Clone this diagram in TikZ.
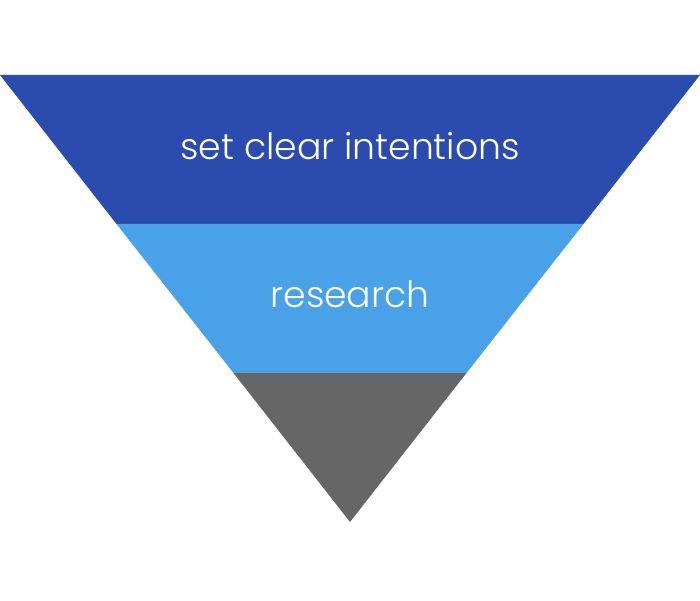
\documentclass[tikz,border=0pt]{standalone}
\usepackage{fontspec}
\setmainfont{Poppins Light}
\definecolor{topblue}{HTML}{2B4BAF}
\definecolor{midblue}{HTML}{49A2E7}
\definecolor{tipgray}{HTML}{666666}
\begin{document}
\begin{tikzpicture}[
    band/.style={draw=none},
    bandlabel/.style={text=white, font=\fontsize{20.6}{24}\selectfont, anchor=base}
]
\useasboundingbox (0,0) rectangle (14,12);

%--------
% FUNNEL: three bands of one inverted triangle
%--------
\fill[band, topblue] (0,10.5) -- (14,10.5) -- (11.67,7.52) -- (2.33,7.52) -- cycle;
\fill[band, midblue] (2.33,7.52) -- (11.67,7.52) -- (9.33,4.54) -- (4.67,4.54) -- cycle;
\fill[band, tipgray] (4.67,4.54) -- (9.33,4.54) -- (7,1.56) -- cycle;

% band labels
\node[bandlabel] (intent) at (7, 8.8) {set clear intentions};
\node[bandlabel] (research) at (7, 5.86) {research};

\end{tikzpicture}
\end{document}
